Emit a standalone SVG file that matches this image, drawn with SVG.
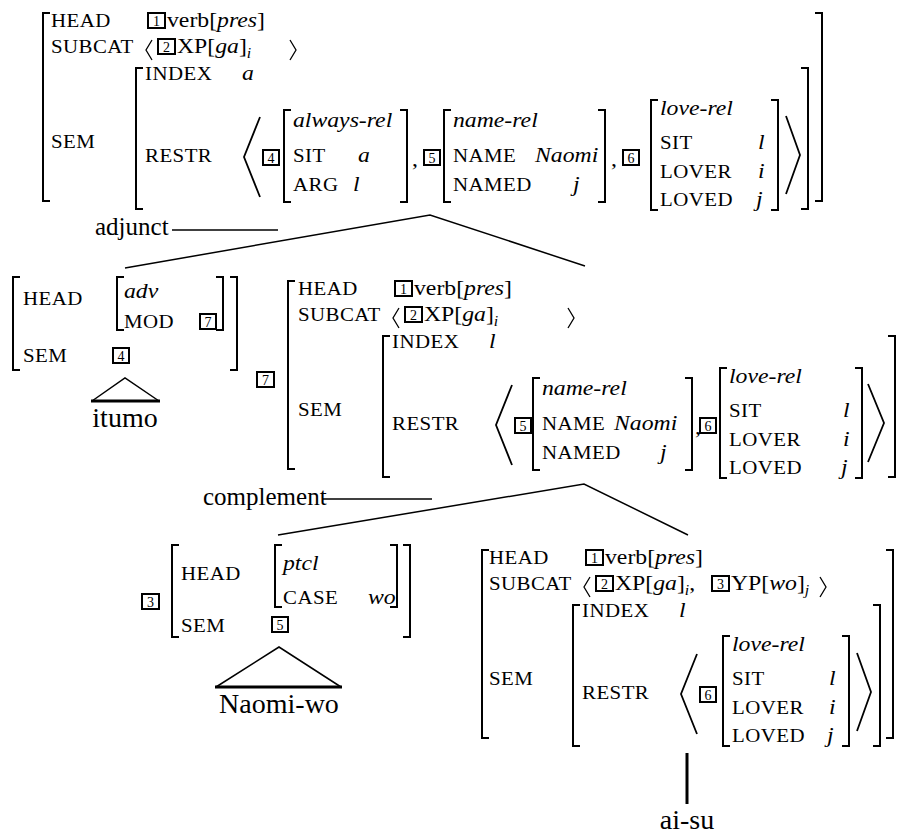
<svg xmlns="http://www.w3.org/2000/svg" width="899" height="834" viewBox="0 0 899 834">
<style>
text { font-family: "Liberation Serif", "Times New Roman", serif; fill: #000; }
.L { font-size: 18.5px; letter-spacing: 0.4px; }
.V { font-size: 21px; }
.i { font-style: italic; }
.sub { font-size: 14px; font-style: italic; }
.d { font-size: 14px; text-anchor: middle; }
.lab { font-size: 25px; }
.leaf { font-size: 28px; text-anchor: middle; }
.br { fill: none; stroke: #000; stroke-width: 2; }
.ang { fill: none; stroke: #000; stroke-width: 1.8; }
.sang { fill: none; stroke: #000; stroke-width: 1.3; }
.bx { fill: none; stroke: #000; stroke-width: 2; }
.edge { fill: none; stroke: #000; stroke-width: 1.5; }
.base { fill: none; stroke: #000; stroke-width: 3; }
</style>

<g id="avm-top">
  <path class="br" d="M50 13H43V201H50M815 13H822V201H815M143 68H136V209H143M801 68H808V209H801M291 110H284V202H291M400 110H407V202H400M451 110H444V202H451M598 110H605V202H598M658 100H651V210H658M771 100H778V210H771"/>
  <path class="ang" d="M260 117L244 157L260 197M786 116L800 155L786 194"/>
  <path class="sang" d="M152 40L146 50L152 60M290 40L296 50L290 60"/>
  <rect class="bx" x="148" y="13" width="17" height="15"/><text class="d" x="156.5" y="25.5">1</text>
  <rect class="bx" x="158" y="39" width="17" height="15"/><text class="d" x="166.5" y="51.5">2</text>
  <rect class="bx" x="263" y="150" width="16" height="15"/><text class="d" x="271" y="162.5">4</text>
  <rect class="bx" x="424" y="150" width="16" height="15"/><text class="d" x="432" y="162.5">5</text>
  <rect class="bx" x="623" y="150" width="16" height="15"/><text class="d" x="631" y="162.5">6</text>
  <text class="L" transform="translate(51 27) scale(1.13 1)">HEAD</text>
  <text class="V" transform="translate(167 27) scale(1.13 1)">verb[<tspan class="i">pres</tspan>]</text>
  <text class="L" transform="translate(51 53) scale(1.13 1)">SUBCAT</text>
  <text class="V" transform="translate(177 53) scale(1.13 1)">XP[<tspan class="i">ga</tspan>]<tspan class="sub" dy="5">i</tspan></text>
  <text class="L" transform="translate(145 80) scale(1.13 1)">INDEX</text>
  <text class="V i" transform="translate(242 80) scale(1.13 1)">a</text>
  <text class="L" transform="translate(51 148) scale(1.13 1)">SEM</text>
  <text class="L" transform="translate(145 162) scale(1.13 1)">RESTR</text>
  <text class="V i" transform="translate(293 127) scale(1.13 1)">always-rel</text>
  <text class="L" transform="translate(293 162) scale(1.13 1)">SIT</text>
  <text class="V i" transform="translate(358 162) scale(1.13 1)">a</text>
  <text class="L" transform="translate(293 191) scale(1.13 1)">ARG</text>
  <text class="V i" transform="translate(353 191) scale(1.13 1)">l</text>
  <text class="V" transform="translate(412 166) scale(1.13 1)">,</text>
  <text class="V i" transform="translate(453 127) scale(1.13 1)">name-rel</text>
  <text class="L" transform="translate(453 162) scale(1.13 1)">NAME</text>
  <text class="V i" transform="translate(535 162) scale(1.13 1)">Naomi</text>
  <text class="L" transform="translate(453 191) scale(1.13 1)">NAMED</text>
  <text class="V i" transform="translate(573 191) scale(1.13 1)">j</text>
  <text class="V" transform="translate(611 166) scale(1.13 1)">,</text>
  <text class="V i" transform="translate(660 115) scale(1.13 1)">love-rel</text>
  <text class="L" transform="translate(660 149) scale(1.13 1)">SIT</text>
  <text class="V i" transform="translate(758 149) scale(1.13 1)">l</text>
  <text class="L" transform="translate(660 178) scale(1.13 1)">LOVER</text>
  <text class="V i" transform="translate(758 178) scale(1.13 1)">i</text>
  <text class="L" transform="translate(660 206) scale(1.13 1)">LOVED</text>
  <text class="V i" transform="translate(756 206) scale(1.13 1)">j</text>
</g>

<g id="avm-adjunct">
  <path class="br" d="M20 277H13V370H20M230 277H237V370H230M124 277H117V330H124M216 277H223V330H216"/>
  <text class="L" transform="translate(23 305) scale(1.13 1)">HEAD</text>
  <text class="L" transform="translate(23 362) scale(1.13 1)">SEM</text>
  <text class="V i" transform="translate(124 298) scale(1.13 1)">adv</text>
  <text class="L" transform="translate(124 328) scale(1.13 1)">MOD</text>
  <rect class="bx" x="200" y="314" width="16" height="15"/><text class="d" x="208" y="326.5">7</text>
  <rect class="bx" x="113" y="348" width="16" height="15"/><text class="d" x="121" y="360.5">4</text>
</g>

<g id="leaf-itumo">
  <path class="edge" d="M92 401L125 378L159 401"/>
  <path class="base" d="M91 401H160"/>
  <text class="leaf" x="125" y="427">itumo</text>
</g>

<g id="avm-mid">
  <rect class="bx" x="257" y="372" width="17" height="15"/><text class="d" x="265.5" y="384.5">7</text>
  <path class="br" d="M295 281H288V469H295M390 336H383V477H390M888 336H895V477H888M540 378H533V470H540M685 378H692V470H685M727 368H720V478H727M855 368H862V478H855"/>
  <path class="ang" d="M512 385L496 425L512 465M868 384L884 423L868 462"/>
  <path class="sang" d="M399 308L393 318L399 328M568 308L574 318L568 328"/>
  <rect class="bx" x="395" y="281" width="17" height="15"/><text class="d" x="403.5" y="293.5">1</text>
  <rect class="bx" x="405" y="307" width="17" height="15"/><text class="d" x="413.5" y="319.5">2</text>
  <rect class="bx" x="515" y="418" width="16" height="15"/><text class="d" x="523" y="430.5">5</text>
  <rect class="bx" x="700" y="418" width="16" height="15"/><text class="d" x="708" y="430.5">6</text>
  <text class="L" transform="translate(298 295) scale(1.13 1)">HEAD</text>
  <text class="V" transform="translate(414 295) scale(1.13 1)">verb[<tspan class="i">pres</tspan>]</text>
  <text class="L" transform="translate(298 321) scale(1.13 1)">SUBCAT</text>
  <text class="V" transform="translate(424 321) scale(1.13 1)">XP[<tspan class="i">ga</tspan>]<tspan class="sub" dy="5">i</tspan></text>
  <text class="L" transform="translate(392 348) scale(1.13 1)">INDEX</text>
  <text class="V i" transform="translate(489 348) scale(1.13 1)">l</text>
  <text class="L" transform="translate(298 416) scale(1.13 1)">SEM</text>
  <text class="L" transform="translate(392 430) scale(1.13 1)">RESTR</text>
  <text class="V i" transform="translate(542 395) scale(1.13 1)">name-rel</text>
  <text class="L" transform="translate(542 430) scale(1.13 1)">NAME</text>
  <text class="V i" transform="translate(614 430) scale(1.13 1)">Naomi</text>
  <text class="L" transform="translate(542 459) scale(1.13 1)">NAMED</text>
  <text class="V i" transform="translate(660 459) scale(1.13 1)">j</text>
  <text class="V" transform="translate(695 434) scale(1.13 1)">,</text>
  <text class="V i" transform="translate(729 383) scale(1.13 1)">love-rel</text>
  <text class="L" transform="translate(729 417) scale(1.13 1)">SIT</text>
  <text class="V i" transform="translate(843 417) scale(1.13 1)">l</text>
  <text class="L" transform="translate(729 446) scale(1.13 1)">LOVER</text>
  <text class="V i" transform="translate(843 446) scale(1.13 1)">i</text>
  <text class="L" transform="translate(729 474) scale(1.13 1)">LOVED</text>
  <text class="V i" transform="translate(841 474) scale(1.13 1)">j</text>
</g>

<g id="avm-comp">
  <rect class="bx" x="142" y="594" width="17" height="15"/><text class="d" x="150.5" y="606.5">3</text>
  <path class="br" d="M179 545H172V637H179M403 545H410V637H403M282 545H275V607H282M390 545H397V607H390"/>
  <text class="L" transform="translate(181 580) scale(1.13 1)">HEAD</text>
  <text class="L" transform="translate(181 632) scale(1.13 1)">SEM</text>
  <text class="V i" transform="translate(283 570) scale(1.13 1)">ptcl</text>
  <text class="L" transform="translate(283 604) scale(1.13 1)">CASE</text>
  <text class="V i" transform="translate(368 604) scale(1.13 1)">wo</text>
  <rect class="bx" x="272" y="617" width="16" height="15"/><text class="d" x="280" y="629.5">5</text>
</g>

<g id="leaf-naomi-wo">
  <path class="edge" d="M216 687L279 647L341 687"/>
  <path class="base" d="M215 687H342"/>
  <text class="leaf" x="279" y="713">Naomi-wo</text>
</g>

<g id="avm-bottom">
  <path class="br" d="M489 550H482V738H489M886 550H893V738H886M580 605H573V746H580M873 605H880V746H873M730 636H723V746H730M842 636H849V746H842"/>
  <path class="ang" d="M697 654L681 694L697 734M857 653L871 692L857 731"/>
  <path class="sang" d="M590 577L584 587L590 597M820 577L826 587L820 597"/>
  <rect class="bx" x="586" y="550" width="17" height="15"/><text class="d" x="594.5" y="562.5">1</text>
  <rect class="bx" x="596" y="576" width="17" height="15"/><text class="d" x="604.5" y="588.5">2</text>
  <rect class="bx" x="712" y="576" width="17" height="15"/><text class="d" x="720.5" y="588.5">3</text>
  <rect class="bx" x="700" y="687" width="16" height="15"/><text class="d" x="708" y="699.5">6</text>
  <text class="L" transform="translate(489 564) scale(1.13 1)">HEAD</text>
  <text class="V" transform="translate(605 564) scale(1.13 1)">verb[<tspan class="i">pres</tspan>]</text>
  <text class="L" transform="translate(489 590) scale(1.13 1)">SUBCAT</text>
  <text class="V" transform="translate(615 590) scale(1.13 1)">XP[<tspan class="i">ga</tspan>]<tspan class="sub" dy="5">i</tspan><tspan dy="-5">,</tspan></text>
  <text class="V" transform="translate(731 590) scale(1.13 1)">YP[<tspan class="i">wo</tspan>]<tspan class="sub" dy="5">j</tspan></text>
  <text class="L" transform="translate(582 617) scale(1.13 1)">INDEX</text>
  <text class="V i" transform="translate(679 617) scale(1.13 1)">l</text>
  <text class="L" transform="translate(489 685) scale(1.13 1)">SEM</text>
  <text class="L" transform="translate(582 699) scale(1.13 1)">RESTR</text>
  <text class="V i" transform="translate(732 651) scale(1.13 1)">love-rel</text>
  <text class="L" transform="translate(732 685) scale(1.13 1)">SIT</text>
  <text class="V i" transform="translate(829 685) scale(1.13 1)">l</text>
  <text class="L" transform="translate(732 714) scale(1.13 1)">LOVER</text>
  <text class="V i" transform="translate(829 714) scale(1.13 1)">i</text>
  <text class="L" transform="translate(732 742) scale(1.13 1)">LOVED</text>
  <text class="V i" transform="translate(827 742) scale(1.13 1)">j</text>
</g>

<g id="leaf-ai-su">
  <text class="leaf" x="687" y="829">ai-su</text>
</g>

<g id="connectors">
  <text class="lab" x="95" y="235">adjunct</text>
  <path class="edge" d="M172 230H278"/>
  <path class="edge" d="M125 268L430 215L585 266"/>
  <text class="lab" x="203" y="505">complement</text>
  <path class="edge" d="M322 499H432"/>
  <path class="edge" d="M278 535L584 484L688 535"/>
  <path class="base" d="M687 753V804"/>
</g>
</svg>
